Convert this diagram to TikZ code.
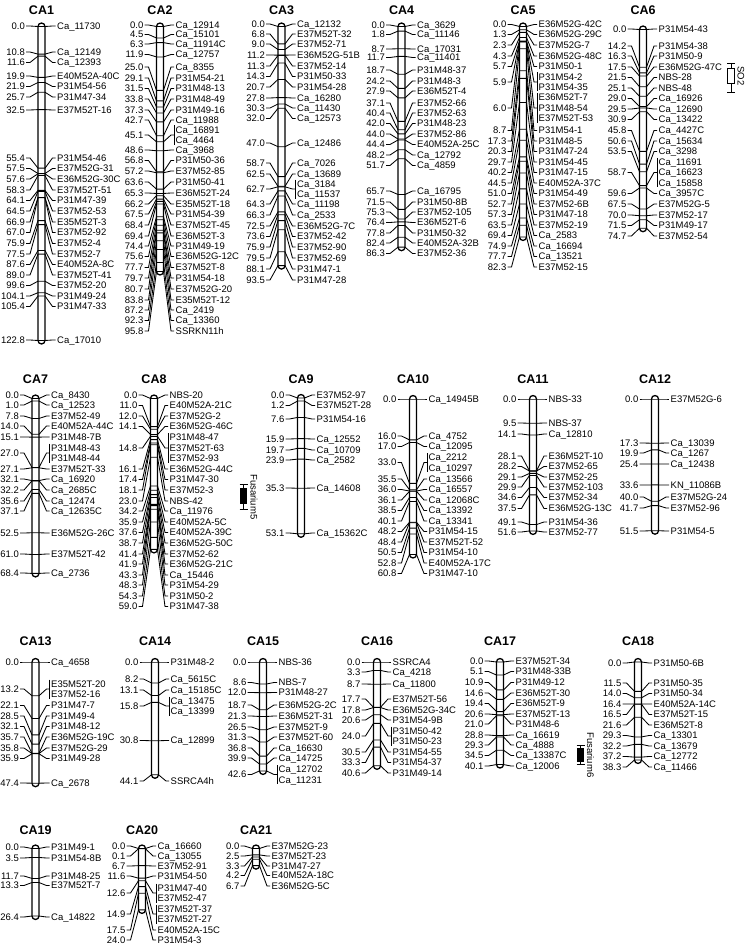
\documentclass[tikz,border=0pt]{standalone}
\usepackage{fontspec}
\setmainfont{Liberation Sans}

\tikzset{
  bar/.style={line width=1.3pt, rounded corners=3.5pt},
  mk/.style={line width=0.85pt},
  num/.style={anchor=base east, inner sep=0pt, font=\fontsize{9.5}{10.5}\selectfont},
  lab/.style={anchor=base west, inner sep=0pt, font=\fontsize{9.5}{10.5}\selectfont},
  ttl/.style={inner sep=0pt, font=\fontsize{12.5}{14}\selectfont\bfseries},
  qtl/.style={line width=0.9pt},
}

\def\chsc{2.557}% pixels per cM
% #1 name, #2 bar x, #3 y of 0 cM, #4 length in cM, #5 title y, #6 cM/label y/lines/names
\newcommand\chrom[6]{%
  \node[ttl] (#1) at (#2,#5) {#1};
  \draw[bar] (#2-3.5,#3-3.5) rectangle (#2+3.5,{#3+\chsc*#4+3.5});
  \foreach \cm/\ly/\nn/\nm [count=\k] in {#6}{
    \pgfmathsetmacro\my{#3+\chsc*\cm}
    \draw[mk] (#2-15.5,\ly) -- (#2-11.5,\ly) -- (#2-3.5,\my) -- (#2+3.5,\my) -- (#2+11,\ly) -- (#2+14,\ly);
    \node[num] (#1n\k) at (#2-16.5,\ly+3.4) {\cm};
    \ifnum\nn=1
      \node[lab] (#1m\k) at (#2+15.5,\ly+3.4) {\nm};
    \else
      \draw[mk] (#2+14,{\ly-5.25*\nn+1}) -- (#2+14,{\ly+5.25*\nn-1});
      \foreach \x [count=\j] in \nm {
        \node[lab] (#1m\k-\j) at (#2+15.5,{\ly+(\j-(\nn+1)/2)*10.5+3.4}) {\x};
      }
    \fi
  }
}

\begin{document}
\begin{tikzpicture}[x=1pt,y=-1pt]
\useasboundingbox (0,0) rectangle (746,947);

% row 1
\chrom{CA1}{41.5}{26.5}{122.8}{10}{0.0/26/1/Ca\_11730, 10.8/52/1/Ca\_12149, 11.6/62.5/1/Ca\_12393,
  19.9/76/1/E40M52A-40C, 21.9/86.5/1/P31M54-56, 25.7/97/1/P31M47-34, 32.5/110/1/E37M52T-16,
  55.4/158/1/P31M54-46, 57.5/168.5/1/E37M52G-31, 57.6/179/1/E36M52G-30C, 58.3/190/1/E37M52T-51,
  64.1/200.5/1/P31M47-39, 64.5/211/1/E37M52-53, 66.9/222/1/E35M52T-3, 67.0/232.5/1/E37M52-92,
  75.9/243.5/1/E37M52-4, 77.5/254/1/E37M52-7, 87.6/264.5/1/E40M52A-8C, 89.0/275/1/E37M52T-41,
  99.6/285.5/1/E37M52-20, 104.1/296/1/P31M49-24, 105.4/306.5/1/P31M47-33, 122.8/340/1/Ca\_17010}

\chrom{CA2}{160}{26.5}{95.8}{10}{0.0/25/1/Ca\_12914, 4.5/34.5/1/Ca\_15101, 6.3/44/1/Ca\_11914C,
  11.9/54.5/1/Ca\_12757, 25.0/67/1/Ca\_8355, 29.1/78/1/P31M54-21, 31.5/88.5/1/P31M48-13,
  33.8/99/1/P31M48-49, 37.3/110/1/P31M49-16, 42.7/120/1/Ca\_11988, 45.1/135/2/{Ca\_16891,Ca\_4464},
  48.6/150/1/Ca\_3968, 56.8/160.5/1/P31M50-36, 57.2/171/1/E37M52-85, 63.6/182/1/P31M50-41,
  65.3/193/1/E36M52T-24, 66.2/204/1/E35M52T-18, 67.5/214/1/P31M54-39, 68.4/225/1/E37M52T-45,
  69.4/236/1/E36M52T-3, 74.4/246/1/P31M49-19, 75.6/256.5/1/E36M52G-12C, 77.7/267.5/1/E37M52T-8,
  79.7/278/1/P31M54-18, 80.7/289/1/E37M52G-20, 83.8/300/1/E35M52T-12, 87.2/310/1/Ca\_2419,
  92.3/320.5/1/Ca\_13360, 95.8/331/1/SSRKN11h}

\chrom{CA3}{281.5}{26.5}{93.5}{10}{0.0/24/1/Ca\_12132, 6.8/34/1/E37M52T-32, 9.0/44/1/E37M52-71,
  11.2/55/1/E36M52G-51B, 11.3/66/1/E37M52-14, 14.3/76.5/1/P31M50-33, 20.7/87/1/P31M54-28,
  27.8/98/1/Ca\_16280, 30.3/108/1/Ca\_11430, 32.0/118.5/1/Ca\_12573, 47.0/143/1/Ca\_12486,
  58.7/163/1/Ca\_7026, 62.5/174/1/Ca\_13689, 62.7/189/2/{Ca\_3184,Ca\_11537}, 64.3/204/1/Ca\_11198,
  66.3/215/1/Ca\_2533, 72.5/226/1/E36M52G-7C, 73.6/236.5/1/E37M52-42, 75.9/247/1/E37M52-90,
  79.5/258/1/E37M52-69, 88.1/269/1/P31M47-1, 93.5/280/1/P31M47-28}

\chrom{CA4}{401.5}{26.5}{86.3}{10}{0.0/25/1/Ca\_3629, 1.8/34.5/1/Ca\_11146, 8.7/49/1/Ca\_17031,
  11.7/57.5/1/Ca\_11401, 18.7/70/1/P31M48-37, 24.2/81/1/P31M48-3, 27.9/91/1/E36M52T-4,
  37.1/103/1/E37M52-66, 40.4/113/1/E37M52-63, 42.0/123.5/1/P31M48-23, 44.0/134/1/E37M52-86,
  44.4/144.5/1/E40M52A-25C, 48.2/155/1/Ca\_12792, 51.7/165.5/1/Ca\_4859, 65.7/191/1/Ca\_16795,
  71.5/202/1/P31M50-8B, 75.3/212/1/E37M52-105, 76.4/222.5/1/E36M52T-6, 77.8/233/1/P31M50-32,
  82.4/243/1/E40M52A-32B, 86.3/253.5/1/E37M52-36}

\chrom{CA5}{523}{26.5}{82.3}{10}{0.0/24.5/1/E36M52G-42C, 1.3/34.5/1/E36M52G-29C, 2.3/45/1/E37M52G-7,
  4.3/56/1/E36M52G-48C, 5.7/66.5/1/P31M50-1, 5.9/82/2/{P31M54-2,P31M54-35},
  6.0/108/3/{E36M52T-7,P31M48-54,E37M52T-53}, 8.7/130.5/1/P31M54-1, 17.3/141/1/P31M48-5,
  20.3/151.5/1/P31M47-24, 29.7/162/1/P31M54-45, 40.2/172.5/1/P31M47-15, 44.5/183/1/E40M52A-37C,
  51.0/193.5/1/P31M54-49, 52.7/204/1/E37M52-6B, 57.3/214.5/1/P31M47-18, 63.5/225/1/E37M52-19,
  69.4/235.5/1/Ca\_2583, 74.9/246/1/Ca\_16694, 77.7/256.5/1/Ca\_13521, 82.3/267/1/E37M52-15}

{\def\chsc{2.66}
\chrom{CA6}{643}{29.5}{74.7}{10}{0.0/29/1/P31M54-43, 14.2/46/1/P31M54-38, 16.3/56/1/P31M50-9,
  17.5/67/1/E36M52G-47C, 21.5/77.5/1/NBS-28, 25.1/88/1/NBS-48, 29.0/98.5/1/Ca\_16926,
  29.5/109/1/Ca\_12690, 30.9/119.5/1/Ca\_13422, 45.8/130.5/1/Ca\_4427C, 50.6/141/1/Ca\_15634,
  53.5/151.5/1/Ca\_3298, 58.7/172.5/3/{Ca\_11691,Ca\_16623,Ca\_15858}, 59.6/193.5/1/Ca\_3957C,
  67.5/204/1/E37M52G-5, 70.0/215/1/E37M52-17, 71.5/225.5/1/P31M49-17, 74.7/236/1/E37M52-54}
}

% QTL SO2
\draw[qtl] (727,63) -- (735,63) (731,63) -- (731,68) (731,83) -- (731,92) (727,92) -- (735,92);
\draw[qtl] (727.5,68) rectangle (734.5,83);
\node[rotate=-90, inner sep=0pt, font=\fontsize{9.5}{10.5}\selectfont] (so2) at (741,76) {SO2};

% row 2
\chrom{CA7}{35.5}{398.5}{68.4}{379}{0.0/395/1/Ca\_8430, 1.0/405/1/Ca\_12523, 7.8/416/1/E37M52-49,
  14.0/426/1/E40M52A-44C, 15.1/437/1/P31M48-7B, 27.0/453/2/{P31M48-43,P31M48-44},
  27.1/469/1/E37M52T-33, 32.1/479/1/Ca\_16920, 32.2/490/1/Ca\_2685C, 35.6/501/1/Ca\_12474,
  37.1/511/1/Ca\_12635C, 52.5/533/1/E36M52G-26C, 61.0/554/1/E37M52T-42, 68.4/573/1/Ca\_2736}

\chrom{CA8}{154}{398.5}{59.0}{379}{0.0/395/1/NBS-20, 11.0/405.5/1/E40M52A-21C, 12.0/416/1/E37M52G-2,
  14.1/426.5/1/E36M52G-46C, 14.8/448/3/{P31M48-47,E37M52T-63,E37M52-93}, 16.1/469/1/E36M52G-44C,
  17.4/479.5/1/P31M47-30, 18.1/490/1/E37M52-3, 23.0/501/1/NBS-42, 34.2/511/1/Ca\_11976,
  35.9/522/1/E40M52A-5C, 37.6/532.5/1/E40M52A-39C, 38.7/543/1/E36M52G-50C, 41.4/554/1/E37M52-62,
  41.9/564/1/E36M52G-21C, 43.3/575/1/Ca\_15446, 48.3/585/1/P31M54-29, 54.3/596/1/P31M50-2,
  59.0/606.5/1/P31M47-38}

% QTL Fusarium5
\draw[qtl] (239.5,484) -- (247.5,484) (243.5,484) -- (243.5,488) (243.5,504) -- (243.5,509) (239.5,509) -- (247.5,509);
\fill (240,488) rectangle (247,504);
\node[rotate=-90, inner sep=0pt, font=\fontsize{9.5}{10.5}\selectfont] (fus5) at (254,497) {Fusarium5};

\chrom{CA9}{301}{398}{53.1}{379}{0.0/395/1/E37M52-97, 1.2/405.5/1/E37M52T-28, 7.6/419/1/P31M54-16,
  15.9/439/1/Ca\_12552, 19.7/450/1/Ca\_10709, 23.9/460/1/Ca\_2582, 35.3/488/1/Ca\_14608,
  53.1/533/1/Ca\_15362C}

\chrom{CA10}{413}{399}{60.8}{379}{0.0/399/1/Ca\_14945B, 16.0/436/1/Ca\_4752, 17.0/446.5/1/Ca\_12095,
  33.0/462.5/2/{Ca\_2212,Ca\_10297}, 35.5/479/1/Ca\_13566, 36.0/489.5/1/Ca\_16557,
  36.1/500/1/Ca\_12068C, 38.5/510.5/1/Ca\_13392, 40.1/521/1/Ca\_13341, 48.2/531.5/1/P31M54-15,
  48.4/542/1/E37M52T-52, 50.5/552.5/1/P31M54-10, 52.8/563/1/E40M52A-17C, 60.8/573.5/1/P31M47-10}

\chrom{CA11}{533}{399}{51.6}{379}{0.0/399/1/NBS-33, 9.5/423/1/NBS-37, 14.1/434/1/Ca\_12810,
  28.1/456/1/E36M52T-10, 28.2/466.5/1/E37M52-65, 29.1/477/1/E37M52-25, 29.9/487/1/E37M52-103,
  34.6/497.5/1/E37M52-34, 37.5/508.5/1/E36M52G-13C, 49.1/522/1/P31M54-36, 51.6/532/1/E37M52-77}

\chrom{CA12}{655}{399}{51.5}{379}{0.0/399/1/E37M52G-6, 17.3/443/1/Ca\_13039, 19.9/453/1/Ca\_1267,
  25.4/464/1/Ca\_12438, 33.6/485/1/KN\_11086B, 40.0/497/1/E37M52G-24, 41.7/508/1/E37M52-96,
  51.5/531/1/P31M54-5}

% row 3
\chrom{CA13}{35.5}{662}{47.4}{641}{0.0/662/1/Ca\_4658, 13.2/689/2/{E35M52T-20,E37M52-16},
  22.1/705.5/1/P31M47-7, 28.5/716/1/P31M49-4, 32.1/726.5/1/P31M48-12, 35.7/737/1/E36M52G-19C,
  35.8/748/1/E37M52G-29, 35.9/758.5/1/P31M49-28, 47.4/783/1/Ca\_2678}

\chrom{CA14}{155}{662}{44.1}{641}{0.0/662/1/P31M48-2, 8.2/679/1/Ca\_5615C, 13.1/690/1/Ca\_15185C,
  15.8/706/2/{Ca\_13475,Ca\_13399}, 30.8/740.5/1/Ca\_12899, 44.1/781/1/SSRCA4h}

\chrom{CA15}{263}{662}{42.6}{641}{0.0/662/1/NBS-36, 8.6/682.5/1/NBS-7, 12.0/692.5/1/P31M48-27,
  18.7/705/1/E36M52G-2C, 21.3/716/1/E36M52T-31, 26.5/727/1/E37M52T-9, 31.3/737/1/E37M52T-60,
  36.8/748/1/Ca\_16630, 39.9/758/1/Ca\_14725, 42.6/774.5/2/{Ca\_12702,Ca\_11231}}

\chrom{CA16}{377}{662}{40.6}{641}{0.0/662/1/SSRCA4, 3.3/672/1/Ca\_4218, 8.7/684/1/Ca\_11800,
  17.7/699/1/E37M52T-56, 17.8/710/1/E36M52G-34C, 20.6/720/1/P31M54-9B,
  24.0/736/2/{P31M50-42,P31M50-23}, 30.5/752/1/P31M54-55, 33.3/762.5/1/P31M54-37,
  40.6/773/1/P31M49-14}

\chrom{CA17}{500}{662}{40.1}{641}{0.0/661/1/E37M52T-34, 5.1/671.5/1/P31M48-33B, 10.9/682.5/1/P31M49-12,
  14.6/693/1/E36M52T-30, 19.4/703.5/1/E36M52T-9, 20.6/714/1/E37M52T-13, 21.0/724/1/P31M48-6,
  28.8/735/1/Ca\_16619, 29.3/745/1/Ca\_4888, 34.5/755.5/1/Ca\_13387C, 40.1/766/1/Ca\_12006}

% QTL Fusarium6
\draw[qtl] (576.5,745) -- (584.5,745) (580.5,745) -- (580.5,748) (580.5,762) -- (580.5,764) (576.5,764) -- (584.5,764);
\fill (577,748) rectangle (584,762);
\node[rotate=-90, inner sep=0pt, font=\fontsize{9.5}{10.5}\selectfont] (fus6) at (590.5,755) {Fusarium6};

\chrom{CA18}{638}{662}{38.3}{641}{0.0/663/1/P31M50-6B, 11.5/683/1/P31M50-35, 14.0/693.5/1/P31M50-34,
  16.4/704/1/E40M52A-14C, 16.5/714.5/1/E37M52T-15, 21.6/725/1/E36M52T-8, 29.3/735.5/1/Ca\_13301,
  32.2/746/1/Ca\_13679, 37.2/756.5/1/Ca\_12772, 38.3/767/1/Ca\_11466}

% row 4
\chrom{CA19}{35.5}{848.5}{26.4}{830}{0.0/847/1/P31M49-1, 3.5/858/1/P31M54-8B, 11.7/876/1/P31M48-25,
  13.3/885.5/1/E37M52T-7, 26.4/917/1/Ca\_14822}

\chrom{CA20}{142}{848.5}{24.0}{830}{0.0/846/1/Ca\_16660, 0.1/856/1/Ca\_13055, 6.7/866/1/E37M52-91,
  11.6/876/1/P31M54-50, 12.6/893/2/{P31M47-40,E37M52-47}, 14.9/914/2/{E37M52T-37,E37M52T-27},
  17.5/930/1/E40M52A-15C, 24.0/940/1/P31M54-3}

\chrom{CA21}{256}{848.5}{6.7}{830}{0.0/846/1/E37M52G-23, 2.5/856/1/E37M52T-23, 3.3/866/1/P31M47-27,
  4.2/875.5/1/E40M52A-18C, 6.7/886/1/E36M52G-5C}
\end{tikzpicture}
\end{document}
